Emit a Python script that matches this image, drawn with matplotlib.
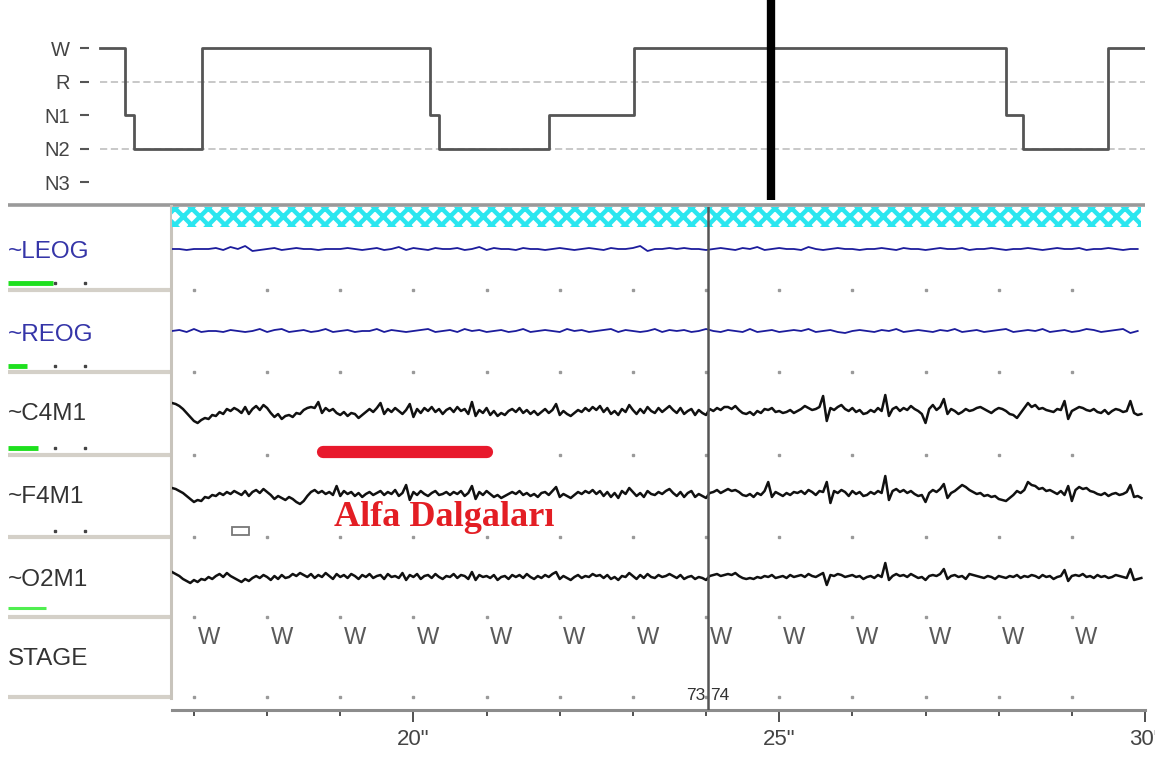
import matplotlib
matplotlib.use("Agg")
import numpy as np
import matplotlib.pyplot as plt
from matplotlib.patches import Rectangle

plt.rcParams['font.family'] = ['Liberation Sans', 'DejaVu Sans']
plt.rcParams['hatch.linewidth'] = 3.2

W_PX, H_PX = 1155, 758

# ---- hypnogram (epochs) ----
hyp_levels = ['W', 'R', 'N1', 'N2', 'N3']
hyp_start = [0, 3, 4, 12, 39, 40, 53, 63, 107, 109, 119]
hyp_stage = ['W', 'N1', 'N2', 'W', 'N1', 'N2', 'N1', 'W', 'N1', 'N2', 'W']
hyp_end = 123.4
hyp_cursor = 79.2

# ---- page (seconds) ----
t_start, t_end = 16.70, 29.95
cursor_t = 24.02
epoch_left, epoch_right = '73', '74'
stage_secs = list(range(17, 30))
stage_marks = ['W'] * len(stage_secs)
major_secs = [20, 25, 30]
major_labels = ['20"', '25"', '30"']

channels = ['~LEOG', '~REOG', '~C4M1', '~F4M1', '~O2M1', 'STAGE']
channel_colors = ['#3535a8', '#3535a8', '#333333', '#333333', '#333333', '#333333']

# EOG, 0.1 s per sample
eog_dt = 0.1
leog = [
    0, 0, -1, 0, 0, 0, 1, -1, 2, 0, 3, -2, -1, 0, 1, -1, 0, 1, 0,
    0, -1, 0, 0, 0, 1, 0, -1, 0, 1, -1, 0, 2, -1, 1, 0, -1, 1, 0,
    0, 1, -1, 0, 2, -1, 1, 0, 0, -1, 1, 0, 0, -1, 0, 1, 0, -1, 0,
    1, 0, -1, 1, 0, 0, 1, 3, -2, 0, 0, 1, 0, 1, 0, 0, -1, 0, 1,
    0, -1, 1, 0, 2, -1, 0, 1, 0, 0, -1, 2, 0, -1, 0, 1, 0, 0, -1,
    0, 0, 1, 0, -1, 1, 0, 0, -1, 0, 1, 0, 0, 1, -1, 0, 0, 1, 0,
    -1, 0, 0, 1, 0, -1, 0, 1, 0, 0, 1, -1, 0, 0, 1, 0, -1, 0, 0,
]
reog = [
    0, 1, -1, 2, -1, 0, 0, -1, 1, 0, -1, 0, 2, -1, 1, 2, -1, 0, 1,
    -1, 0, 2, -1, 0, 1, -1, 0, 0, 2, -1, 1, 0, -1, 0, 1, 2, -1, 0,
    1, -1, 2, 0, 1, -1, 0, 1, -1, 0, 2, -1, 0, 1, 0, -1, 2, 0, 1,
    -1, 0, 1, 2, -1, 1, 0, -1, 0, 2, -1, 1, 0, 1, -1, 0, 2, 0, -1,
    1, 0, -1, 2, -1, 0, 1, -1, 0, 1, 0, 2, -1, 0, 1, -1, -2, 0, 1,
    0, -1, 1, 0, 2, -1, 0, 1, 0, -1, 1, 0, 2, -1, 0, 1, -1, 0, 1,
    2, -1, 0, 1, 0, 2, -1, 0, 1, -1, 0, 2, 1, -1, 0, 1, 2, -2, 0,
]

# EEG, 0.05 s per sample
eeg_dt = 0.05
c4m1 = [
    8, 7, 5, 2, -2, -6, -10, -12, -9, -7, -8, -4, -5, -1, -3, 2, 0, 3, 1,
    -2, 4, -3, 2, 5, 1, 6, 3, -2, -6, -3, -8, -5, -4, -6, -2, -3, 1, 3,
    4, 3, 9, -2, 3, 0, 2, -2, -4, -1, -5, -2, -3, -7, -4, -1, 2, -1, 3,
    8, -3, 2, -1, 3, 0, -3, 1, 7, -6, 2, -2, 3, 0, 4, -1, 2, -3, 1,
    3, -1, 4, 0, 2, -3, 9, -5, 1, -2, 3, -4, 0, -5, -2, -4, 0, 2, -1,
    3, -2, 1, -3, 0, -4, -1, 2, -2, 1, 7, -4, 0, -3, -5, -2, 1, -1, 3,
    0, 4, 1, 5, -1, 3, -3, 0, -4, 2, -1, 6, 1, -3, 2, -2, 4, 0, -2,
    3, -1, 2, 5, 1, -2, 3, -3, 0, 2, -4, 1, -2, -4, 2, 0, 3, 1, 4,
    4, 2, 5, 1, -2, -3, -1, -4, 0, -2, 2, 1, 3, -1, 0, -2, -1, 1, -2,
    0, 2, 5, 3, 1, 2, 4, 15, -10, 3, 1, 4, 6, 2, 0, 3, -1, 1, -3,
    -2, 1, -1, 3, 0, 16, -5, 2, 4, 0, 3, 1, 5, 2, 0, -3, -12, 2, 6,
    1, 4, 12, -3, 2, 0, -3, -1, 2, 0, 1, 3, 4, 2, 0, -2, 1, 3, 2,
    0, -3, -4, -7, -2, 3, 8, 4, 6, 2, 3, 1, 0, -1, 2, 1, 10, -8, 0,
    2, 4, 3, 1, 0, 2, -1, -2, 1, -3, 0, 2, 1, -1, 0, 10, -2, -4, -3,
]
f4m1 = [
    6, 5, 3, 1, -2, -5, -8, -6, -7, -3, -4, -1, -2, 1, -1, 2, 0, 3, 1,
    -1, 3, -2, 2, 4, 1, 5, 2, -1, -5, -2, -4, -6, -3, -5, -8, -10, -7, -2,
    2, 4, 1, 3, 0, 2, -1, 8, -2, 3, 0, 2, -2, 1, -3, 0, 2, -1, 1,
    3, -1, 2, 0, 4, -2, 1, 9, -6, 2, -1, 3, 0, -2, 1, 3, -1, 0, 2,
    -1, 2, 0, 3, -2, 1, 8, -5, 2, -1, 3, 0, -3, -1, -4, -2, 0, 2, 0,
    3, -1, 1, -2, 0, -3, 1, 2, -1, 3, 7, -3, 0, -2, -4, -1, 2, 0, 3,
    1, 4, 0, 3, -2, 2, -3, 1, -4, 3, 0, 6, 2, -2, 1, -3, 3, 0, -1,
    2, 0, 3, 5, 1, -2, 2, -3, 1, 3, -3, 0, -2, -4, 1, 2, 4, 1, 3,
    5, 3, 4, 2, -1, -2, 0, -3, 1, -1, 3, 12, -3, 2, 0, -2, 1, -1, 2,
    1, 3, 0, 4, 2, -1, 3, 2, 12, -9, 3, 1, 4, 2, -2, 3, 0, 2, -2,
    -1, 2, 0, 3, 1, 18, -6, 3, 5, 2, 4, 1, 3, 0, -2, -1, -8, 1, 4,
    2, 5, 10, -4, 1, 3, 6, 9, 7, 4, 2, 0, 1, -2, -1, -3, -2, -5, -6,
    -7, -4, -1, 3, 1, 4, 12, 9, 8, 5, 6, 3, 4, 2, 0, 3, -1, 8, -7,
    4, 7, 5, 6, 3, 2, 0, -1, 1, -2, 0, 1, -1, 0, 2, 9, -3, -2, -4,
]
o2m1 = [
    5, 3, 1, -2, -4, -6, -3, -5, -2, -3, 0, -2, 1, 3, 0, 4, 1, -1, -3,
    -5, -2, -4, -1, 1, -1, 2, 0, -3, 1, -2, 2, -1, 0, 3, 1, 4, 2, 0,
    3, -1, 2, 0, 4, 1, -2, 3, 0, 2, -1, 3, 1, -2, 2, 0, 3, -1, 1,
    2, -2, 3, 0, 1, -1, 4, -3, 2, 0, 3, -2, 1, 2, -1, 3, 0, -2, 1,
    0, 3, -1, 2, 1, -2, 5, -3, 2, 0, 1, -1, 2, -3, 0, 1, -2, 2, 0,
    2, -1, 3, 0, -2, 1, -1, 2, 0, 3, 5, -2, 1, -1, -3, 0, 2, -1, 1,
    0, 3, 1, 2, -1, 2, -2, 0, -3, 1, 0, 4, 1, -2, 2, -1, 3, 0, -1,
    2, 0, 1, 3, 1, -1, 2, -2, 0, 1, -2, 0, -1, -3, 1, 2, 3, 1, 2,
    3, 2, 4, 1, -1, -2, -1, -2, 0, -1, 1, 0, 2, -1, 0, 1, -1, 2, 0,
    1, 2, 0, 3, 1, 0, 2, 4, -8, 2, 1, 3, 2, 0, 1, 2, 0, 1, -2,
    0, 1, -1, 2, 0, 14, -3, 1, 3, 1, 2, 0, 3, 1, -1, 0, -3, 1, 2,
    1, 3, 8, -2, 1, 2, 0, 1, -2, 3, 2, 1, 0, -1, 1, 0, -2, 1, 0,
    -1, 1, 0, 2, -1, 1, 0, 2, 1, -1, 2, 0, 1, -2, 0, 1, 7, -4, 1,
    2, 1, 3, 0, 1, -1, 2, 0, 1, -1, 0, 2, 1, 0, -1, 8, -3, -2, -1,
]

annot_text = 'Alfa Dalgaları'
annot_span = (18.77, 21.0)


def px_axes(fig, x0, y0, x1, y1, **kw):
    return fig.add_axes([x0 / W_PX, 1 - y1 / H_PX, (x1 - x0) / W_PX, (y1 - y0) / H_PX], **kw)


fig = plt.figure(figsize=(W_PX / 100, H_PX / 100), dpi=100)
fig.patch.set_facecolor('white')

# ---------- background chrome (left label panel etc.) ----------
bg = px_axes(fig, 0, 0, W_PX, H_PX, zorder=0)
bg.set_xlim(0, W_PX)
bg.set_ylim(H_PX, 0)
bg.axis('off')

bg.plot([8, 1145], [204.5, 204.5], color='#9a9a9a', lw=2.6, solid_capstyle='butt')
row_tops = [207, 292, 374, 457, 540, 619]
row_bots = [290, 372, 455, 537, 617, 697]
label_y = [252, 335, 414, 497, 580, 659]
for top, bot in zip(row_tops, row_bots):
    bg.plot([8, 171], [bot, bot], color='#d4d0c8', lw=3, solid_capstyle='butt')
bg.plot([170.5, 170.5], [206, 698], color='#c8c4bc', lw=2.2)
for name, col, y in zip(channels, channel_colors, label_y):
    bg.text(8, y, name, color=col, fontsize=17.5, ha='left', va='center')

# gain bars and small markers
green = [(53, 283, 3.5, '#1ee01e'), (27, 366, 3.5, '#1ee01e'), (38, 448, 3.5, '#1ee01e'),
         (46, 608, 2.2, '#50ee50')]
for x1, y, lw, col in green:
    bg.plot([8, x1], [y, y], color=col, lw=lw, solid_capstyle='butt')
for y in [283, 366, 448, 531]:
    bg.plot([55, 85], [y, y], ls='none', marker='s', ms=2, color='#444444')
bg.add_patch(Rectangle((232, 527), 17, 8, fill=False, edgecolor='#777777', lw=1.3))

# ---------- hypnogram ----------
hx = px_axes(fig, 89, 0, 1145, 200, zorder=2)
hx.patch.set_alpha(0)
hx.set_xlim(-1.3, hyp_end)
hx.set_ylim(4.537, -1.433)
for s in hx.spines.values():
    s.set_visible(False)
lev = {k: i for i, k in enumerate(hyp_levels)}
for k in ['R', 'N2']:
    hx.hlines(lev[k], 0, hyp_end, colors='#c4c4c4', linestyles=(0, (4, 2)), lw=1.3, zorder=1)
xs = hyp_start + [hyp_end]
ys = [lev[s] for s in hyp_stage] + [lev[hyp_stage[-1]]]
hx.step(xs, ys, where='post', color='#555555', lw=2, zorder=2)
hx.axvline(hyp_cursor, ymin=0, ymax=0.985, color='black', lw=6, zorder=3)
hx.set_xticks([])
hx.set_yticks(range(len(hyp_levels)))
hx.set_yticklabels(hyp_levels)
hx.tick_params(axis='y', length=6.5, width=1.5, color='#555555', pad=7,
               labelsize=14.5, labelcolor='#444444')

# ---------- signal page ----------
ax = px_axes(fig, 172, 207, 1145, 710, zorder=2)
ax.patch.set_alpha(0)
ax.set_xlim(t_start, t_end)
ax.set_ylim(503, 0)
for k in ['top', 'left', 'right']:
    ax.spines[k].set_visible(False)
ax.spines['bottom'].set_color('#8c8c8c')
ax.spines['bottom'].set_linewidth(2.2)

ax.add_patch(Rectangle((t_start, 0), t_end - t_start, 20, facecolor='white',
                       edgecolor='#2ae6ef', hatch='xx', lw=0, zorder=1))

# second markers
dot_rows = [83, 165, 248, 330, 410, 490]
for r in dot_rows:
    ax.plot(stage_secs, [r] * len(stage_secs), ls='none', marker='s', ms=1.6,
            color='#9a9a9a', zorder=1)

traces = [(leog, eog_dt, '#1c1c9c', 1.3), (reog, eog_dt, '#1c1c9c', 1.3),
          (c4m1, eeg_dt, '#111111', 1.8), (f4m1, eeg_dt, '#111111', 1.8),
          (o2m1, eeg_dt, '#111111', 1.8)]
baselines = [42, 124, 204, 287, 370]
for (vals, dt, col, lw), base in zip(traces, baselines):
    v = np.array(vals, dtype=float)
    t = t_start + dt * np.arange(len(v))
    ax.plot(t, base - v, color=col, lw=lw, zorder=3)

for s, m in zip(stage_secs, stage_marks):
    ax.text(s + 0.2, 431, m, ha='center', va='center', fontsize=17, color='#5a5a5a')

ax.axvline(cursor_t, color='#555555', lw=1.8, zorder=4)
ax.text(cursor_t - 0.03, 488, epoch_left, ha='right', va='center', fontsize=12.5, color='#333333')
ax.text(cursor_t + 0.03, 488, epoch_right, ha='left', va='center', fontsize=12.5, color='#333333')

ax.plot(annot_span, [245, 245], color='#e8192c', lw=8.8, solid_capstyle='round', zorder=5)
ax.text(18.91, 311, annot_text, family=['Liberation Serif'], weight='bold',
        fontsize=26, color='#e31e24', va='center', ha='left', zorder=5)

ax.set_xticks(major_secs)
ax.set_xticklabels(major_labels)
ax.set_xticks(stage_secs, minor=True)
ax.set_yticks([])
ax.tick_params(axis='x', which='major', length=8.6, width=1.2, color='#333333',
               labelsize=16, labelcolor='#444444', pad=5)
ax.tick_params(axis='x', which='minor', length=4.3, width=1.2, color='#333333')

fig.savefig('out.png', dpi=100)
